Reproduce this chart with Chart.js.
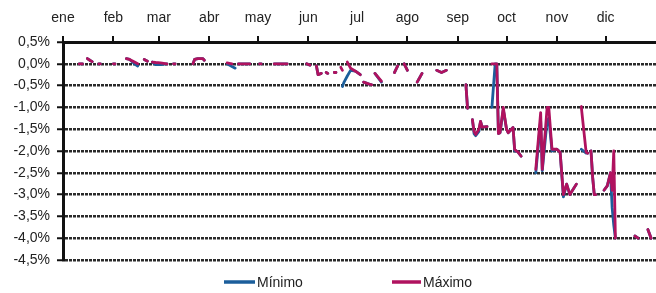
<!DOCTYPE html>
<html>
<head>
<meta charset="utf-8">
<script src="https://cdn.jsdelivr.net/npm/chart.js@4/dist/chart.umd.min.js"></script>
<style>
  html, body { margin: 0; padding: 0; background: #fff; }
  #wrap { width: 656px; height: 293px; position: relative; }
</style>
</head>
<body>
<div id="wrap"><canvas id="chart"></canvas></div>
<script>
// month labels and the day of year where each month starts
const meses = ['ene', 'feb', 'mar', 'abr', 'may', 'jun', 'jul', 'ago', 'sep', 'oct', 'nov', 'dic'];
const inicioMes = [0, 31, 59, 90, 120, 151, 181, 212, 243, 273, 304, 334];

// day of year; null values break the line
const dias = [
  10, 12, 13,
  15, 17, 18, 19,
  22, 23, 24,
  31, 32, 33,
  39, 41, 44, 46, 47,
  50, 52, 53,
  55, 57, 60, 64, 65,
  68, 69, 70,
  80, 81, 83, 86, 87, 88,
  101, 104, 106, 107,
  108, 115, 116,
  121, 122, 123,
  130, 138, 139,
  150, 152, 153,
  156, 157, 159, 160,
  162, 163, 164,
  167, 168, 169,
  171, 172, 173, 175, 177, 180, 183, 184,
  185, 188, 190, 191,
  192, 196, 197,
  204, 206, 207,
  210, 212, 213,
  218, 221, 222,
  230, 233, 236, 237,
  248, 249, 250,
  252, 253, 254, 256, 257, 258, 261, 262,
  264, 266, 267, 268, 269, 271, 273, 274, 277, 278, 279, 280, 282, 283,
  291, 294, 295, 298, 299, 301, 304, 306, 308, 310, 312, 316, 317,
  319, 322, 323, 324,
  325, 326, 327, 328, 329,
  333, 335, 337, 338, 339, 340, 341,
  352, 354, 355,
  360, 362
];

const maximo = [
  0.0, 0.0, null,
  0.12, 0.07, 0.05, null,
  0.0, 0.0, null,
  0.0, 0.0, null,
  0.12, 0.1, 0.04, 0.0, null,
  0.1, 0.06, null,
  0.04, 0.03, 0.02, 0.0, null,
  0.0, 0.0, null,
  0.0, 0.1, 0.12, 0.12, 0.08, null,
  0.02, 0.0, null, null,
  0.0, 0.0, null,
  0.0, 0.0, null,
  0.0, 0.0, null,
  0.0, -0.03, null,
  -0.05, -0.25, -0.22, null,
  -0.2, -0.22, null,
  -0.2, -0.2, null,
  -0.08, -0.15, null, 0.04, -0.1, -0.17, -0.25, null,
  -0.42, -0.46, -0.48, null,
  -0.22, -0.4, null,
  -0.2, -0.05, null,
  0.0, -0.15, null,
  -0.42, -0.22, null,
  -0.15, -0.2, -0.15, null,
  -0.48, -1.02, null,
  -1.28, -1.55, -1.62, -1.5, -1.32, -1.45, -1.44, null,
  0.0, 0.0, 0.0, -1.6, -1.58, -1.0, -1.5, -1.58, -1.46, -1.96, -2.0, -2.02, -2.12, null,
  -2.42, -1.12, -2.42, -1.0, -1.0, -1.96, -1.96, -2.03, -3.0, -2.76, -3.0, -2.76, null,
  -0.98, -2.03, -2.05, null,
  -2.0, -2.6, -3.0, -3.0, null,
  -2.9, -2.8, -2.5, -2.9, -2.0, -4.0, null,
  -3.95, -4.0, null,
  -3.8, -4.0
];

const minimo = [
  0.0, 0.0, null,
  0.12, 0.07, 0.05, null,
  0.0, 0.0, null,
  0.0, 0.0, null,
  0.12, 0.1, 0.0, -0.05, null,
  0.1, 0.06, null,
  0.04, -0.02, -0.02, 0.0, null,
  0.0, 0.0, null,
  0.0, 0.1, 0.12, 0.12, 0.08, null,
  0.0, -0.06, -0.1, null,
  0.0, 0.0, null,
  0.0, 0.0, null,
  0.0, 0.0, null,
  0.0, -0.03, null,
  -0.05, -0.25, -0.22, null,
  -0.2, -0.22, null,
  -0.2, -0.2, null,
  null, -0.52, -0.42, -0.28, -0.15, -0.17, -0.25, null,
  -0.42, -0.46, -0.48, null,
  -0.22, -0.42, null,
  -0.2, -0.05, null,
  0.0, -0.15, null,
  -0.42, -0.22, null,
  -0.15, -0.2, -0.15, null,
  -0.48, -1.02, null,
  -1.28, -1.6, -1.65, -1.55, -1.32, -1.45, -1.44, null,
  -1.0, 0.0, 0.0, -1.6, -1.58, -1.05, -1.5, -1.58, -1.46, -2.0, -2.0, -2.02, -2.12, null,
  -2.5, -1.3, -2.45, -1.3, -1.25, -2.0, -1.96, -2.03, -3.05, -2.76, -3.0, -2.76, null,
  -1.96, -2.05, -2.05, null,
  -2.0, -2.6, -3.0, -3.0, null,
  -2.9, -2.8, -2.5, -3.3, -3.7, -4.0, null,
  -3.95, -4.0, null,
  -3.8, -4.0
];

function puntos(valores) {
  return dias.map((d, i) => ({ x: d, y: valores[i] }));
}

function etiquetaPct(v) {
  return v.toFixed(1).replace('.', ',') + '%';
}

// simple legend under the plot, items spread like the original
const leyendaAbajo = {
  id: 'leyendaAbajo',
  afterDraw(chart) {
    const ctx = chart.ctx;
    const y = 283;
    const items = [
      { ds: chart.data.datasets[0], x: 224, w: 31 },
      { ds: chart.data.datasets[1], x: 392, w: 29 }
    ];
    ctx.save();
    ctx.font = '14px "Liberation Sans", Arial, sans-serif';
    ctx.textBaseline = 'middle';
    ctx.fillStyle = '#222';
    items.forEach(it => {
      ctx.strokeStyle = it.ds.borderColor;
      ctx.lineWidth = 3.5;
      ctx.beginPath();
      ctx.moveTo(it.x, y - 1);
      ctx.lineTo(it.x + it.w, y - 1);
      ctx.stroke();
      ctx.fillText(it.ds.label, it.x + it.w + 2, y);
    });
    ctx.restore();
  }
};

const azul = '#1b5e9b';
const magenta = '#b0125f';

new Chart(document.getElementById('chart').getContext('2d'), {
  type: 'line',
  data: {
    datasets: [
      {
        label: 'Mínimo',
        data: puntos(minimo),
        borderColor: azul,
        backgroundColor: azul,
        borderWidth: 2.8,
        pointRadius: 0,
        borderCapStyle: 'round',
        borderJoinStyle: 'round',
        spanGaps: false,
        tension: 0,
        order: 2
      },
      {
        label: 'Máximo',
        data: puntos(maximo),
        borderColor: magenta,
        backgroundColor: magenta,
        borderWidth: 2.8,
        pointRadius: 0,
        borderCapStyle: 'round',
        borderJoinStyle: 'round',
        spanGaps: false,
        tension: 0,
        order: 1
      }
    ]
  },
  options: {
    responsive: true,
    maintainAspectRatio: false,
    animation: false,
    layout: { padding: { left: 0, right: 0, top: 0, bottom: 33 } },
    plugins: {
      legend: { display: false },
      tooltip: { enabled: false }
    },
    scales: {
      x: {
        type: 'linear',
        position: 'top',
        min: 0,
        max: 365,
        afterBuildTicks: (scale) => {
          scale.ticks = inicioMes.map(v => ({ value: v }));
        },
        afterFit: (scale) => { scale.height = 42; },
        ticks: {
          autoSkip: false,
          maxRotation: 0,
          padding: 9,
          color: '#222',
          font: { family: '"Liberation Sans", Arial, sans-serif', size: 14 },
          callback: (v) => meses[inicioMes.indexOf(v)]
        },
        grid: {
          drawOnChartArea: false,
          tickLength: 6,
          tickColor: '#111',
          lineWidth: 2
        },
        border: { display: true, color: '#111', width: 3 }
      },
      y: {
        min: -4.5,
        max: 0.5,
        afterFit: (scale) => { scale.width = 63; },
        ticks: {
          stepSize: 0.5,
          padding: 7,
          color: '#222',
          font: { family: '"Liberation Sans", Arial, sans-serif', size: 14 },
          callback: (v) => etiquetaPct(v)
        },
        grid: {
          color: '#2a2a2a',
          lineWidth: 2.5,
          tickLength: 6,
          tickColor: '#111',
          tickWidth: 2
        },
        border: { display: true, color: '#111', width: 3, dash: [3, 1] }
      }
    }
  },
  plugins: [leyendaAbajo]
});
</script>
</body>
</html>
